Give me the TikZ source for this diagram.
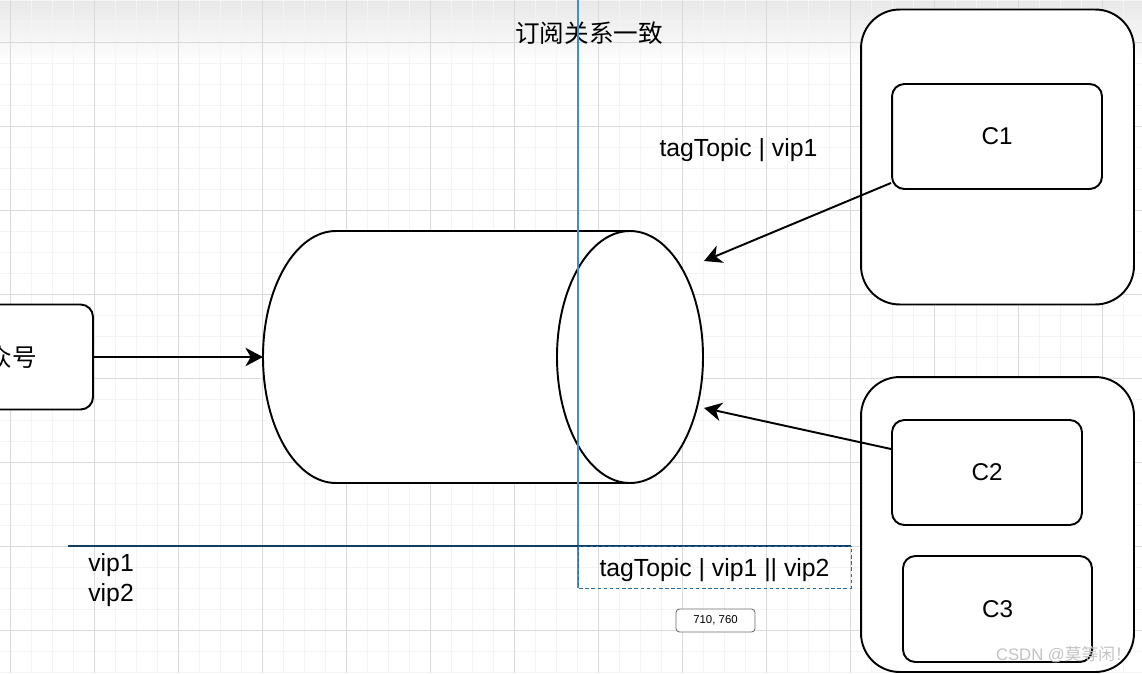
\documentclass[tikz,border=0pt]{standalone}
\usepackage{fontspec}
\setmainfont{Liberation Sans}
\newfontfamily\cjk{Noto Sans CJK SC}
\usetikzlibrary{arrows.meta, positioning}
\definecolor{gridmaj}{RGB}{218,218,218}
\definecolor{gridmin}{RGB}{244,244,244}
\definecolor{guidec}{RGB}{60,145,205}
\definecolor{guided}{RGB}{15,60,95}
\definecolor{dashc}{RGB}{40,110,160}
\definecolor{tipc}{RGB}{110,110,110}
\definecolor{wmc}{RGB}{195,195,195}
\tikzset{
  outer/.style={draw, line width=1.1pt, rounded corners=22pt, fill=white,
                minimum width=5.46cm, minimum height=5.9cm},
  cbox/.style={draw, line width=1.1pt, rounded corners=7pt, fill=white,
               minimum height=2.1cm, font=\fontsize{13.8}{15}\selectfont},
  lbl/.style={font=\fontsize{14.1}{17}\selectfont, inner sep=0pt},
  flow/.style={-{Stealth[length=10pt, width=10.5pt, inset=3pt]}, line width=1.1pt},
}

\begin{document}
\begin{tikzpicture}[x=0.02cm, y=-0.02cm]
  \useasboundingbox (0,0) rectangle (1142,673);
  % canvas
  \fill[white] (0,0) rectangle (1142,673);
  \shade[top color=black!9, bottom color=white] (0,0) rectangle (1142,66);
  \foreach \x in {10.5,31.5,...,1142} \draw[gridmin, line width=0.5pt] (\x,0) -- (\x,673);
  \foreach \y in {0,21,...,673} \draw[gridmin, line width=0.5pt] (0,\y) -- (1142,\y);
  \foreach \x in {10.5,94.5,...,1142} \draw[gridmaj, line width=0.5pt] (\x,0) -- (\x,673);
  \foreach \y in {42,126,...,673} \draw[gridmaj, line width=0.5pt] (0,\y) -- (1142,\y);

  % publisher
  \node[cbox, minimum width=3.72cm, font=\cjk\fontsize{14}{16}\selectfont]
    (pub) at (0,357) {公众号};

  % queue
  \filldraw[fill=white, line width=1.1pt] (630,231) -- (336,231)
    arc[start angle=270, end angle=90, x radius=73, y radius=126] -- (630,483);
  \draw[fill=white, line width=1.1pt] (630,357) ellipse [x radius=73, y radius=126];
  \coordinate (qin) at (263,357);
  \coordinate (tip1) at (704,261);
  \coordinate (tip2) at (704,408);

  % consumer groups
  \node[outer] (grp1) at (997.5,157) {};
  \node[outer] (grp2) at (997.5,524.5) {};
  \node[cbox, minimum width=4.2cm] (c1) at (997,136.5) {C1};
  \node[cbox, minimum width=3.8cm] (c2) at (987,472.5) {C2};
  \node[cbox, minimum width=3.78cm, minimum height=2.12cm] (c3) at (997.5,609) {C3};

  \draw[flow] (pub) -- (qin);
  \draw[flow] ([yshift=0.14cm]c1.south west) -- (tip1);
  \draw[flow] ([yshift=0.47cm]c2.west) -- (tip2);

  % texts
  \node[lbl, font=\cjk\fontsize{14}{16}\selectfont] (title) at (589,33) {订阅关系一致};
  \node[lbl] (sub1) at (738.5,150) {tagTopic | vip1};
  \node[lbl, anchor=west, align=left] (tags) at (88,580) {vip1\\vip2};
  \node[lbl] (sub2) at (714.5,570) {tagTopic | vip1 || vip2};
  \node[draw=tipc, fill=white, rounded corners=2pt, line width=0.5pt,
        minimum width=1.58cm, minimum height=0.46cm, inner sep=0pt,
        font=\fontsize{6.5}{8}\selectfont] (pos) at (715.5,620.5) {710, 760};
  \node[wmc, anchor=east, inner sep=0pt, font=\fontsize{9.5}{11}\selectfont]
    (wm) at (1132,655) {CSDN @{\cjk 莫等闲！}};

  % guides
  \draw[guidec, line width=0.7pt] (578,0) -- (578,588);
  \draw[guided, line width=0.7pt] (68,546) -- (851,546);
  \draw[dashc, line width=0.5pt, dash pattern=on 2pt off 1.5pt] (578,546) rectangle (851,588);
\end{tikzpicture}
\end{document}
